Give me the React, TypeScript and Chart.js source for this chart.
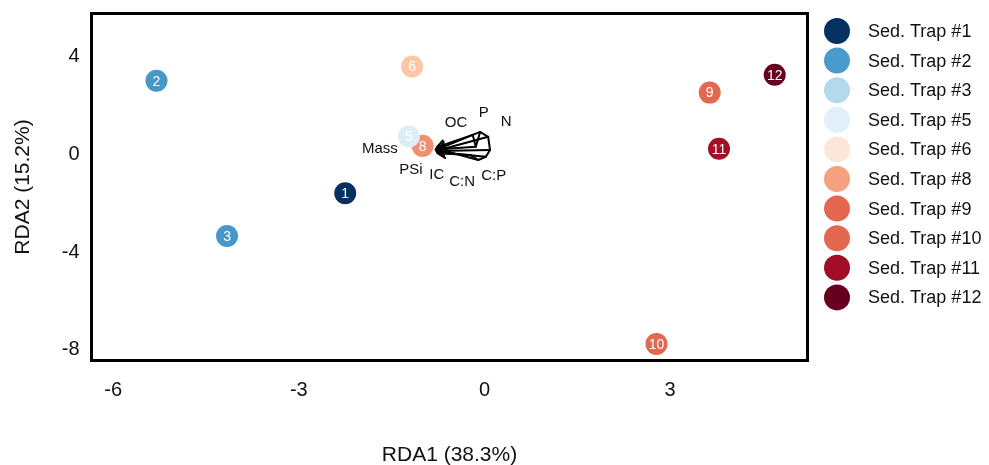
import React, { useEffect, useRef } from "react";
import { Chart, registerables } from "chart.js";

Chart.register(...registerables);

// ---------- data ----------
const trapLabels = [
  "Sed. Trap #1",
  "Sed. Trap #2",
  "Sed. Trap #3",
  "Sed. Trap #5",
  "Sed. Trap #6",
  "Sed. Trap #8",
  "Sed. Trap #9",
  "Sed. Trap #10",
  "Sed. Trap #11",
  "Sed. Trap #12",
];
const trapNumbers = ["1", "2", "3", "5", "6", "8", "9", "10", "11", "12"];
const rda1Scores = [-2.25, -5.3, -4.16, -1.22, -1.17, -1.0, 3.64, 2.78, 3.79, 4.69];
const rda2Scores = [-1.59, 3.02, -3.34, 0.73, 3.6, 0.35, 2.53, -7.76, 0.23, 3.26];
const pointColors = [
  "#053061", "#4797c9", "#4797c9", "#dcedf7", "#fcc6a7",
  "#f0906e", "#e2694f", "#e2694f", "#a50f26", "#67001f",
];
const legendColors = [
  "#053061", "#4a9acb", "#b5d9ec", "#e0eff8", "#fde5d8",
  "#f5a07e", "#e3684f", "#e3684f", "#a20d25", "#67001f",
];

const envVars = ["Mass", "PSi", "IC", "C:N", "C:P", "OC", "P", "N"];
const arrowStartX = [-0.14, -0.1, 0.02, -0.23, 0.09, -0.19, -0.07, 0.06];
const arrowStartY = [0.31, -0.23, -0.1, -0.02, 0.18, 0.8, 0.92, 0.72];
const arrowEndX = [-0.79, -0.78, -0.77, -0.76, -0.78, -0.77, -0.75, -0.76];
const arrowEndY = [0.2, 0.24, 0.1, 0.05, 0.14, 0.3, 0.22, 0.16];
// order in which the arrow tails are joined (tangle seen in the source)
const tailPath = [5, 0, 6, 7, 4, 2, 1, 3];
const envLabelX = [-1.69, -1.19, -0.77, -0.36, 0.15, -0.46, -0.01, 0.35];
const envLabelY = [0.23, -0.64, -0.84, -1.13, -0.88, 1.29, 1.7, 1.33];

const xTicks = [-6, -3, 0, 3];
const yTicks = [-8, -4, 0, 4];
const xTitle = "RDA1 (38.3%)";
const yTitle = "RDA2 (15.2%)";

const FONT = "'Liberation Sans', Arial, sans-serif";

// ---------- plugins ----------
const borderPlugin = {
  id: "boxBorder",
  afterDraw(chart: any) {
    const { ctx, chartArea } = chart;
    ctx.save();
    ctx.strokeStyle = "#000";
    ctx.lineWidth = 3;
    ctx.strokeRect(chartArea.left, chartArea.top, chartArea.right - chartArea.left, chartArea.bottom - chartArea.top);
    ctx.restore();
  },
};

const arrowPlugin = {
  id: "envArrows",
  afterDatasetsDraw(chart: any) {
    const { ctx, scales } = chart;
    const xs = scales.x;
    const ys = scales.y;
    ctx.save();
    ctx.strokeStyle = "#000";
    ctx.lineWidth = 2;
    ctx.lineCap = "round";
    ctx.lineJoin = "round";
    for (let i = 0; i < envVars.length; i++) {
      const x0 = xs.getPixelForValue(arrowStartX[i]);
      const y0 = ys.getPixelForValue(arrowStartY[i]);
      const x1 = xs.getPixelForValue(arrowEndX[i]);
      const y1 = ys.getPixelForValue(arrowEndY[i]);
      const ang = Math.atan2(y1 - y0, x1 - x0);
      const hl = 9;
      ctx.beginPath();
      ctx.moveTo(x0, y0);
      ctx.lineTo(x1, y1);
      ctx.moveTo(x1 - hl * Math.cos(ang - 0.5), y1 - hl * Math.sin(ang - 0.5));
      ctx.lineTo(x1, y1);
      ctx.lineTo(x1 - hl * Math.cos(ang + 0.5), y1 - hl * Math.sin(ang + 0.5));
      ctx.stroke();
    }
    ctx.beginPath();
    tailPath.forEach((k, j) => {
      const px = xs.getPixelForValue(arrowStartX[k]);
      const py = ys.getPixelForValue(arrowStartY[k]);
      if (j === 0) ctx.moveTo(px, py);
      else ctx.lineTo(px, py);
    });
    ctx.stroke();
    ctx.fillStyle = "#111";
    ctx.font = `15px ${FONT}`;
    ctx.textAlign = "center";
    ctx.textBaseline = "middle";
    for (let i = 0; i < envVars.length; i++) {
      ctx.fillText(envVars[i], xs.getPixelForValue(envLabelX[i]), ys.getPixelForValue(envLabelY[i]));
    }
    ctx.restore();
  },
};

const pointLabelPlugin = {
  id: "pointLabels",
  afterDatasetsDraw(chart: any) {
    const { ctx } = chart;
    ctx.save();
    ctx.fillStyle = "#fff";
    ctx.font = `14px ${FONT}`;
    ctx.textAlign = "center";
    ctx.textBaseline = "middle";
    chart.data.datasets.forEach((ds: any, i: number) => {
      const meta = chart.getDatasetMeta(i);
      meta.data.forEach((el: any) => {
        ctx.fillText(ds.pointText, el.x, el.y + 1);
      });
    });
    ctx.restore();
  },
};

const legendPlugin = {
  id: "customLegend",
  afterDraw(chart: any) {
    const { ctx } = chart;
    ctx.save();
    ctx.font = `18px ${FONT}`;
    ctx.textAlign = "left";
    ctx.textBaseline = "middle";
    chart.data.datasets.forEach((ds: any, i: number) => {
      const cy = 31 + i * 29.6;
      ctx.beginPath();
      ctx.fillStyle = ds.legendColor;
      ctx.arc(837, cy, 13, 0, Math.PI * 2);
      ctx.fill();
      ctx.fillStyle = "#111";
      ctx.fillText(ds.label, 868, cy + 1);
    });
    ctx.restore();
  },
};

export default function App() {
  const ref = useRef<HTMLCanvasElement | null>(null);

  useEffect(() => {
    document.body.style.margin = "0";
    if (!ref.current) return;
    const datasets = trapLabels.map((label, i) => ({
      label,
      data: [{ x: rda1Scores[i], y: rda2Scores[i] }],
      backgroundColor: pointColors[i],
      borderWidth: 0,
      pointRadius: 11,
      pointHoverRadius: 11,
      pointText: trapNumbers[i],
      legendColor: legendColors[i],
    }));
    const chart = new Chart(ref.current, {
      type: "scatter",
      data: { datasets } as any,
      options: {
        animation: false,
        responsive: false,
        events: [],
        layout: { padding: { left: 0, top: 13.5, right: 181.5, bottom: 0 } },
        plugins: {
          legend: { display: false },
          tooltip: { enabled: false },
        },
        scales: {
          x: {
            type: "linear",
            min: -6.35,
            max: 5.22,
            afterFit: (s: any) => {
              s.height = 104.5;
              s.paddingLeft = 0;
              s.paddingRight = 0;
            },
            afterBuildTicks: (s: any) => { s.ticks = xTicks.map((v) => ({ value: v })); },
            grid: { display: false, drawTicks: false },
            border: { display: false },
            ticks: {
              includeBounds: false,
              padding: 18,
              color: "#111",
              font: { family: FONT, size: 20 },
            },
            title: {
              display: true,
              text: xTitle,
              color: "#111",
              font: { family: FONT, size: 21, lineHeight: 1 },
              padding: { top: 0, bottom: -1 },
            },
          },
          y: {
            type: "linear",
            min: -8.44,
            max: 5.77,
            afterFit: (s: any) => {
              s.width = 91.5;
              s.paddingTop = 0;
              s.paddingBottom = 0;
            },
            afterBuildTicks: (s: any) => { s.ticks = yTicks.map((v) => ({ value: v })); },
            grid: { display: false, drawTicks: false },
            border: { display: false },
            ticks: {
              includeBounds: false,
              padding: 12,
              color: "#111",
              font: { family: FONT, size: 20 },
            },
            title: {
              display: true,
              text: yTitle,
              color: "#111",
              font: { family: FONT, size: 21, lineHeight: 1 },
              padding: { top: 13, bottom: 0 },
            },
          },
        },
      } as any,
      plugins: [arrowPlugin, pointLabelPlugin, borderPlugin, legendPlugin],
    });
    return () => chart.destroy();
  }, []);

  return (
    <div style={{ width: 989, height: 465 }}>
      <canvas ref={ref} width={989} height={465} style={{ display: "block" }} />
    </div>
  );
}
